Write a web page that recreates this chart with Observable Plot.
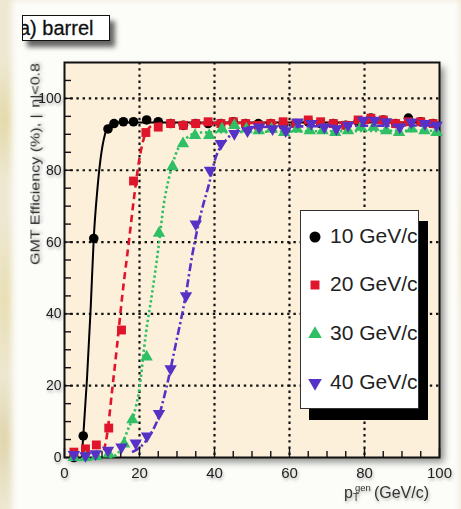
<!DOCTYPE html>
<html>
<head>
<meta charset="utf-8">
<script src="https://cdn.jsdelivr.net/npm/d3@7"></script>
<script src="https://cdn.jsdelivr.net/npm/@observablehq/plot@0.6"></script>
<style>
html,body{margin:0;padding:0;}
body{width:461px;height:509px;overflow:hidden;position:relative;
  font-family:"Liberation Sans",Arial,Helvetica,sans-serif;
  background:
    radial-gradient(ellipse 30px 60px at 5px 120px, rgba(225,215,160,.8), transparent),
    radial-gradient(ellipse 25px 80px at 8px 300px, rgba(230,220,170,.8), transparent),
    radial-gradient(ellipse 30px 70px at 4px 440px, rgba(220,210,165,.8), transparent),
    radial-gradient(ellipse 20px 80px at 458px 250px, rgba(230,220,180,.8), transparent),
    #eee8d2;}
#panel{position:absolute;left:17px;top:5px;width:438px;height:510px;background:#fcfcf9;
  box-shadow:0 0 6px 5px #fcfcf9;}
#frameShadow{position:absolute;left:64px;top:62px;width:375px;height:395px;
  box-shadow:5px 5px 7px rgba(0,0,0,.45);}
#chart{position:absolute;left:0;top:0;}
#title{position:absolute;left:22px;top:15px;width:86px;height:24px;background:#fff;
  border:1.5px solid #111;overflow:hidden;box-shadow:5px 6px 5px rgba(0,0,0,.6);
  font-size:20px;line-height:25px;white-space:nowrap;color:#111;
  -webkit-text-stroke:0.3px #111;}
#title span{margin-left:-4px;}
#legend{position:absolute;left:300px;top:210px;width:117px;height:197px;background:#fff;
  border:1px solid #333;overflow:hidden;box-shadow:9px 11px 0 #000;}
.entry{position:absolute;left:0;height:26px;white-space:nowrap;font-size:21px;color:#222;}
.entry svg{position:absolute;left:6px;top:5px;}
.entry span{position:absolute;left:29px;top:0px;line-height:24px;}
svg text{filter:drop-shadow(1.5px 2px 1.5px rgba(0,0,0,.3));}
</style>
</head>
<body>
<div id="panel"></div>
<div id="frameShadow"></div>
<div id="chart"></div>
<div id="title"><span>a) barrel</span></div>
<div id="legend"></div>
<script>
// ---- tick values ----
const xTickLabels = [0, 20, 40, 60, 80, 100];
const yTickLabels = [0, 20, 40, 60, 80, 100];
const xMinorTicks = [5, 10, 15, 25, 30, 35, 45, 50, 55, 65, 70, 75, 85, 90, 95];
const yMinorTicks = [5, 10, 15, 25, 30, 35, 45, 50, 55, 65, 70, 75, 85, 90, 95, 105];
const xGridLines = [20, 40, 60, 80];
const yGridLines = [20, 40, 60, 80, 100];

// ---- series ----
const seriesNames = ["10 GeV/c", "20 GeV/c", "30 GeV/c", "40 GeV/c"];
const seriesColors = ["#000000", "#e0142b", "#2fbf64", "#5631c6"];

// 10 GeV/c (circles)
const x10 = [2.5, 5, 7.8, 11.6, 13.2, 15.7, 18.4, 21.9, 25, 28.3, 31.7, 35, 38.3, 41.7, 45, 48.3, 51.7, 55, 58.3, 61.7, 65, 68.3, 71.7, 75, 78.3, 81.7, 85, 88.3, 91.7, 95, 98.3];
const y10 = [0, 6, 61, 91.5, 93, 93.5, 93.5, 94, 93.5, 93, 92.5, 93, 93, 93, 93.5, 93, 93, 93, 92.5, 93, 93.5, 93, 93, 92.5, 93.5, 94.5, 94, 93, 94.5, 93.5, 93];
// 20 GeV/c (squares)
const x20 = [2.5, 5.6, 8.5, 11.8, 15.2, 18.4, 21.7, 25, 28.3, 31.7, 35, 38.3, 41.7, 45, 48.3, 51.7, 55, 58.3, 61.7, 65, 68.3, 71.7, 75, 78.3, 81.7, 85, 88.3, 91.7, 95, 98.3];
const y20 = [1.5, 2.4, 3.5, 8.2, 35.5, 77, 90.5, 92, 93, 92.5, 93, 93.5, 93, 93.5, 93, 92.5, 93, 93.5, 93, 94, 93.5, 93, 92.5, 94, 94.5, 94, 93, 93.5, 93.5, 93];
// 30 GeV/c (triangles up)
const x30 = [2.5, 5.6, 8.5, 11.8, 15.9, 18.1, 21.9, 25.2, 28.8, 31.6, 34.8, 38.6, 42, 45.3, 48.5, 51.8, 55.2, 58.6, 62, 65.4, 68.8, 72.2, 75.6, 79, 82.4, 85.8, 89.2, 92.6, 96, 99.2];
const y30 = [0, 0, 0.3, 1, 3.8, 10.5, 28, 62.5, 81, 87.4, 89.7, 89.7, 91.5, 92.5, 91.5, 91, 91.5, 90.5, 91.5, 91, 91, 90.5, 91, 92, 92, 91, 90.5, 91.5, 91, 90.5];
// 40 GeV/c (triangles down)
const x40 = [2.5, 5.6, 8.3, 11.6, 15.2, 19, 22, 25.2, 28.3, 32.4, 35, 38.8, 41.7, 45.3, 48.8, 51.9, 55.5, 59, 62.2, 65.8, 69.3, 72.5, 75.6, 79.6, 82.7, 85.8, 89.4, 92.5, 96.1, 99.2];
const y40 = [0.8, 0.5, 1, 2, 2.9, 4, 6, 12.2, 24.7, 45, 65, 80, 87.4, 90.2, 91, 92, 91.5, 91, 93.4, 93, 92, 91.5, 92.5, 93.9, 93.9, 93.5, 92, 93.4, 93, 92.5];

// fitted curves
const fx10 = [4.6, 5, 6, 7, 7.8, 8.8, 9.6, 10.8, 12, 14, 100];
const fy10 = [0, 6, 22, 42, 61, 75, 83, 90, 92.5, 93.3, 93.3];
const fx20 = [10.5, 11.3, 12.7, 14, 15.4, 17.2, 18.5, 19.9, 21.7, 23.5, 26, 100];
const fy20 = [2, 6, 18.7, 31, 45, 60.4, 72, 82.7, 90.5, 92.5, 93, 93.3];
const fx30 = [12, 14.1, 16.8, 18.5, 19.9, 21.7, 23.4, 25, 26.5, 27.9, 29.5, 32.8, 36, 100];
const fy30 = [0, 1, 7.5, 12, 18.7, 34.5, 46, 58, 70.7, 78, 84, 89.2, 90.5, 91];
const fx40 = [18, 20.3, 23, 25, 27, 29.7, 32.3, 34, 36.4, 38.5, 40.3, 43, 46, 50, 100];
const fy40 = [1.5, 3, 6.6, 11, 18.7, 31.7, 45, 56, 68, 76, 83.5, 88.3, 91, 92, 92.5];

const xs = [x10, x20, x30, x40], ys = [y10, y20, y30, y40];
const fxs = [fx10, fx20, fx30, fx40], fys = [fy10, fy20, fy30, fy40];

const triangleDown = {
  draw(context, size) {
    const s3 = Math.sqrt(3);
    const y = -Math.sqrt(size / (s3 * 3));
    context.moveTo(0, -y * 2);
    context.lineTo(-s3 * y, y);
    context.lineTo(s3 * y, y);
    context.closePath();
  }
};
const seriesSymbols = ["circle", "square", "triangle", triangleDown];
const seriesR = [4.8, 5.0, 4.6, 4.6];
const seriesDash = [null, "7,4.5", "2.4,2.6", "8,3,2.2,3"];
const legendSymbols = [d3.symbolCircle, d3.symbolSquare, d3.symbolTriangle, triangleDown];

const points = seriesNames.map((name, i) => xs[i].map((x, j) => ({x, y: ys[i][j], s: name})));
const fits = seriesNames.map((name, i) => fxs[i].map((x, j) => ({x, y: fys[i][j], s: name})));

const W = 461, H = 509, mL = 64, mR = 22, mT = 62, mB = 52;
const frameW = W - mL - mR, frameH = H - mT - mB;

const dataMarks = [];
seriesNames.forEach((name, i) => {
  dataMarks.push(Plot.line(fits[i], {x: "x", y: "y", curve: "monotone-x",
    stroke: seriesColors[i], strokeWidth: i === 0 ? 2 : 2.6,
    strokeDasharray: seriesDash[i], strokeLinecap: "butt"}));
  dataMarks.push(Plot.dot(points[i], {x: "x", y: "y", symbol: seriesSymbols[i],
    r: seriesR[i], fill: seriesColors[i], stroke: "none"}));
});

const chart = Plot.plot({
  width: W, height: H,
  marginLeft: mL, marginRight: mR, marginTop: mT, marginBottom: mB,
  x: {domain: [0, 100]},
  y: {domain: [0, 110]},
  style: {background: "transparent", fontFamily: "'Liberation Sans', Arial, sans-serif", overflow: "visible"},
  marks: [
    Plot.frame({fill: "#fcf0db", stroke: null}),
    Plot.gridX(xGridLines, {stroke: "#111", strokeOpacity: 1, strokeWidth: 2.2, strokeDasharray: "2.4,3.8"}),
    Plot.gridY(yGridLines, {stroke: "#111", strokeOpacity: 1, strokeWidth: 2.2, strokeDasharray: "2.4,3.8"}),
    Plot.tickX(xTickLabels, {x: d => d, stroke: "#111", strokeWidth: 1.4, insetTop: frameH - 9}),
    Plot.tickX(xMinorTicks, {x: d => d, stroke: "#111", strokeWidth: 1.4, insetTop: frameH - 6}),
    Plot.tickY(yTickLabels, {y: d => d, stroke: "#111", strokeWidth: 1.4, insetRight: frameW - 9}),
    Plot.tickY(yMinorTicks, {y: d => d, stroke: "#111", strokeWidth: 1.4, insetRight: frameW - 7}),
    Plot.frame({stroke: "#111", strokeWidth: 2, fill: "none"}),
    ...dataMarks,
    Plot.axisX(xTickLabels, {tickSize: 0, tickPadding: 10, fontSize: 15, fill: "#222", label: null}),
    Plot.axisY(yTickLabels, {tickSize: 0, tickPadding: 3, fontSize: 14, fill: "#222", label: null})
  ]
});
document.getElementById("chart").appendChild(chart);

// axis titles
const svg = d3.select(chart);
svg.append("text")
  .attr("transform", "translate(39.5,63) rotate(-90)")
  .attr("text-anchor", "end")
  .attr("font-size", 12)
  .attr("fill", "#333")
  .attr("textLength", 202)
  .attr("lengthAdjust", "spacingAndGlyphs")
  .text("GMT Efficiency (%), |\u2009\u2009η|<0.8");

const xt = svg.append("text").attr("fill", "#333").attr("text-anchor", "start")
  .attr("x", 344).attr("y", 498).attr("font-size", 16);
xt.append("tspan").text("p");
xt.append("tspan").attr("font-size", 10).attr("dy", 3).text("T");
xt.append("tspan").attr("font-size", 9.5).attr("dx", -4).attr("dy", -10).text("gen");
xt.append("tspan").attr("font-size", 16).attr("dx", 3).attr("dy", 7).text("(GeV/c)");

// legend
const legend = document.getElementById("legend");
const rowTops = [13, 61, 110, 159];
seriesNames.forEach((name, i) => {
  const row = document.createElement("div");
  row.className = "entry";
  row.style.top = rowTops[i] + "px";
  const s = d3.create("svg").attr("width", 16).attr("height", 16);
  s.append("path").attr("transform", "translate(8,8)")
    .attr("d", d3.symbol(legendSymbols[i], i === 0 ? 95 : 80)())
    .attr("fill", seriesColors[i]);
  row.appendChild(s.node());
  const t = document.createElement("span");
  t.textContent = name;
  row.appendChild(t);
  legend.appendChild(row);
});
</script>
</body>
</html>
